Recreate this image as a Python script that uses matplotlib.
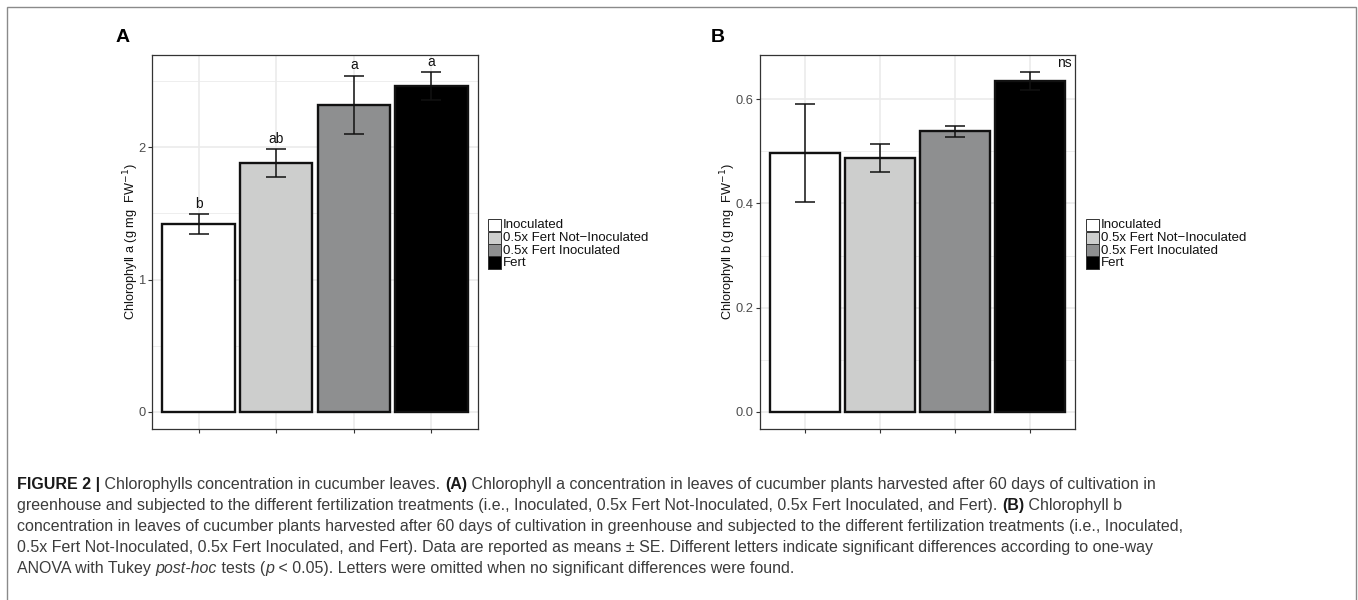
import numpy as np
import matplotlib
matplotlib.use("Agg")
import matplotlib.pyplot as plt
from matplotlib.patches import Rectangle

# data
treatments = ["Inoculated", "0.5x Fert Not\u2212Inoculated", "0.5x Fert Inoculated", "Fert"]
fills = ["#FFFFFF", "#CDCECD", "#8E8F90", "#000000"]

chla_mean = [1.42, 1.88, 2.32, 2.46]
chla_se = [0.075, 0.105, 0.22, 0.107]
chla_letters = ["b", "ab", "a", "a"]

chlb_mean = [0.496, 0.487, 0.538, 0.635]
chlb_se = [0.094, 0.026, 0.011, 0.017]

W, H = 1358, 600
plt.rcParams["font.family"] = ["Liberation Sans", "DejaVu Sans"]

fig = plt.figure(figsize=(W / 100, H / 100), dpi=100)


def px(x, y):
    # pixel position (from top-left) -> figure fraction
    return x / W, 1 - y / H


def bar_panel(rect, means, se, ylabel, minor, major, ticklabels, label_x):
    ax = fig.add_axes(rect)
    x = np.arange(1, len(means) + 1)
    means = np.array(means)
    se = np.array(se)
    top = (means + se).max()
    ax.set_xlim(0.4, len(means) + 0.6)
    ax.set_ylim(-0.05 * top, 1.05 * top)
    for m in minor:
        ax.axhline(m, color="#EBEBEB", lw=0.6, zorder=0)
    for m in major:
        ax.axhline(m, color="#EBEBEB", lw=1.2, zorder=0)
    for xi in x:
        ax.axvline(xi, color="#EBEBEB", lw=1.2, zorder=0)
    ax.bar(x, means, width=0.93, color=fills, edgecolor="#111111", linewidth=1.7, zorder=2)
    ax.errorbar(x, means, yerr=se, fmt="none", ecolor="#111111", elinewidth=1.1,
                capsize=7.5, capthick=1.1, zorder=3)
    ax.set_yticks(major)
    ax.set_yticklabels(ticklabels)
    ax.set_xticks(x)
    ax.set_xticklabels([])
    ax.tick_params(length=3, width=0.8, color="#333333", labelsize=9.3,
                   labelcolor="#4D4D4D", pad=1.5)
    for s in ax.spines.values():
        s.set_color("#333333")
        s.set_linewidth(0.9)
    ax.set_ylabel(ylabel, fontsize=9.2, color="#111111")
    ax.yaxis.set_label_coords(label_x, 0.5)
    return ax, x, means, se


axA, xA, mA, sA = bar_panel([152 / W, 1 - 429 / H, 326 / W, 374 / H], chla_mean, chla_se,
                            "Chlorophyll a (g mg  FW$^{-1}$)",
                            [0.5, 1.5, 2.5], [0, 1, 2], ["0", "1", "2"], -0.034)
for xi, top, lab in zip(xA, mA + sA, chla_letters):
    axA.annotate(lab, (xi, top), xytext=(0, 4.5), textcoords="offset points",
                 ha="center", va="baseline", fontsize=10, color="#111111")

axB, xB, mB, sB = bar_panel([760 / W, 1 - 429 / H, 315 / W, 374 / H], chlb_mean, chlb_se,
                            "Chlorophyll b (g mg  FW$^{-1}$)",
                            [0.1, 0.3, 0.5], [0.0, 0.2, 0.4, 0.6],
                            ["0.0", "0.2", "0.4", "0.6"], -0.071)
axB.text(0.988, 0.967, "ns", transform=axB.transAxes, ha="right", va="baseline",
         fontsize=10, color="#111111")

# panel tags
fig.text(*px(116, 42), "A", fontsize=14, fontweight="bold", va="baseline")
fig.text(*px(711, 42), "B", fontsize=14, fontweight="bold", va="baseline")

# legends (ggplot style stacked keys)
for lx in (488, 1086):
    for i, (lab, c) in enumerate(zip(treatments, fills)):
        y0 = 219 + i * 12.5
        fig.patches.append(Rectangle(px(lx, y0 + 12.5), 13 / W, 12.5 / H,
                                     transform=fig.transFigure, facecolor=c,
                                     edgecolor="#333333", linewidth=0.7))
        fig.text(*px(lx + 15, y0 + 6.5), lab, fontsize=9.5, va="center", ha="left",
                 color="#111111")

# outer frame
fig.patches.append(Rectangle(px(7, 610), (1356 - 7) / W, 603 / H, transform=fig.transFigure,
                             fill=False, edgecolor="#8A8A8A", linewidth=1.0))

# caption, built from runs of bold / regular / italic text
cap_size = 11.55
renderer = fig.canvas.get_renderer()


def text_width(s, **kw):
    a = fig.text(0, 0, "|" + s + "|", **kw)
    b = fig.text(0, 0, "||", **kw)
    w = a.get_window_extent(renderer).width - b.get_window_extent(renderer).width
    a.remove()
    b.remove()
    return w


R, B, I = "normal", "bold", "italic"
caption = [
    [(B, "FIGURE 2 |"), (R, " Chlorophylls concentration in cucumber leaves. "), (B, "(A)"),
     (R, " Chlorophyll a concentration in leaves of cucumber plants harvested after 60 days of cultivation in")],
    [(R, "greenhouse and subjected to the different fertilization treatments (i.e., Inoculated, "
         "0.5x Fert Not-Inoculated, 0.5x Fert Inoculated, and Fert). "), (B, "(B)"), (R, " Chlorophyll b")],
    [(R, "concentration in leaves of cucumber plants harvested after 60 days of cultivation in greenhouse "
         "and subjected to the different fertilization treatments (i.e., Inoculated,")],
    [(R, "0.5x Fert Not-Inoculated, 0.5x Fert Inoculated, and Fert). Data are reported as means \u00b1 SE. "
         "Different letters indicate significant differences according to one-way")],
    [(R, "ANOVA with Tukey "), (I, "post-hoc"), (R, " tests ("), (I, "p"),
     (R, " < 0.05). Letters were omitted when no significant differences were found.")],
]
for k, line in enumerate(caption):
    xpos = 17
    ybase = 489 + 21 * k
    for style, s in line:
        kw = dict(fontsize=cap_size)
        if style == B:
            kw["fontweight"] = "bold"
            kw["color"] = "#1A1A1A"
        else:
            kw["color"] = "#3C3C3C"
            if style == I:
                kw["fontstyle"] = "italic"
        fig.text(*px(xpos, ybase), s, va="baseline", ha="left", **kw)
        xpos += text_width(s, **kw)

fig.savefig("out.png", dpi=100)
